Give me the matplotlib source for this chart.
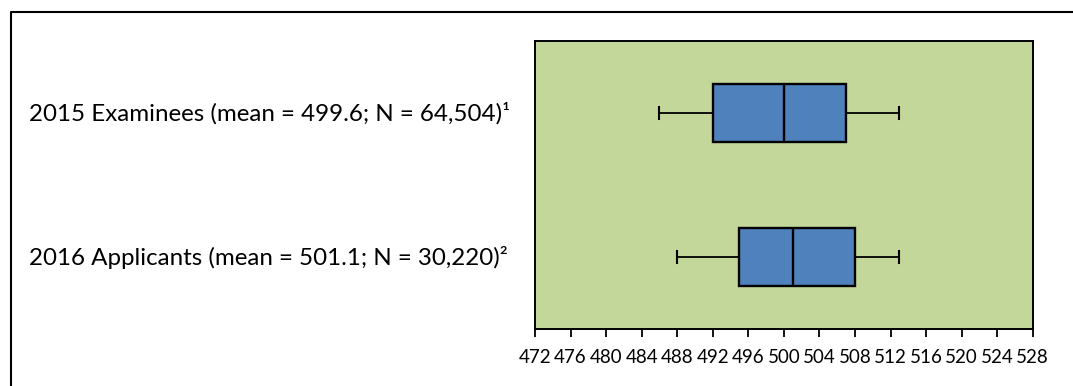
import matplotlib
matplotlib.use("Agg")
import matplotlib.pyplot as plt
from matplotlib.lines import Line2D
from matplotlib.transforms import blended_transform_factory
from matplotlib.ticker import MultipleLocator

# box statistics
groups = ["2015 Examinees (mean = 499.6; N = 64,504)\u00b9",
          "2016 Applicants (mean = 501.1; N = 30,220)\u00b2"]
whislo = [486, 488]
q1 = [492, 495]
med = [500, 501]
q3 = [507, 508]
whishi = [513, 513]
xticks = list(range(472, 529, 4))

plt.rcParams['font.family'] = ['Lato', 'DejaVu Sans']

fig = plt.figure(figsize=(10.73, 3.86), dpi=100)
ax = fig.add_axes([0.4986, 0.1469, 0.4639, 0.7469])
ax.set_facecolor('#C4D79B')

stats = []
for i in range(len(groups)):
    stats.append(dict(label=groups[i], whislo=whislo[i], q1=q1[i], med=med[i],
                      q3=q3[i], whishi=whishi[i], fliers=[]))

ax.bxp(stats, positions=[1, 2], vert=False, widths=0.4, capwidths=0.085,
       patch_artist=True, showfliers=False,
       boxprops=dict(facecolor='#4F81BD', edgecolor='black', linewidth=1.7),
       medianprops=dict(color='black', linewidth=1.7),
       whiskerprops=dict(color='black', linewidth=1.3),
       capprops=dict(color='black', linewidth=1.5))

ax.set_ylim(2.5, 0.5)
ax.set_xlim(472, 528)
ax.set_yticks([])
ax.xaxis.set_major_locator(MultipleLocator(4))
ax.set_xticks(xticks)
ax.tick_params(axis='x', direction='out', length=6, width=1.3, labelsize=13.5, pad=8)
for s in ax.spines.values():
    s.set_linewidth(1.4)

# category labels on the left
tr = blended_transform_factory(fig.transFigure, ax.transData)
for i, g in enumerate(groups):
    ax.text(29 / 1073, i + 1, g, transform=tr, ha='left', va='center', fontsize=17.4)

# outer frame (left and top edges visible)
fig.add_artist(Line2D([11 / 1073, 11 / 1073, 1.0], [0.0, 1 - 12 / 386, 1 - 12 / 386],
                      transform=fig.transFigure, color='black', linewidth=1.5))

plt.savefig("out.png", dpi=100)
